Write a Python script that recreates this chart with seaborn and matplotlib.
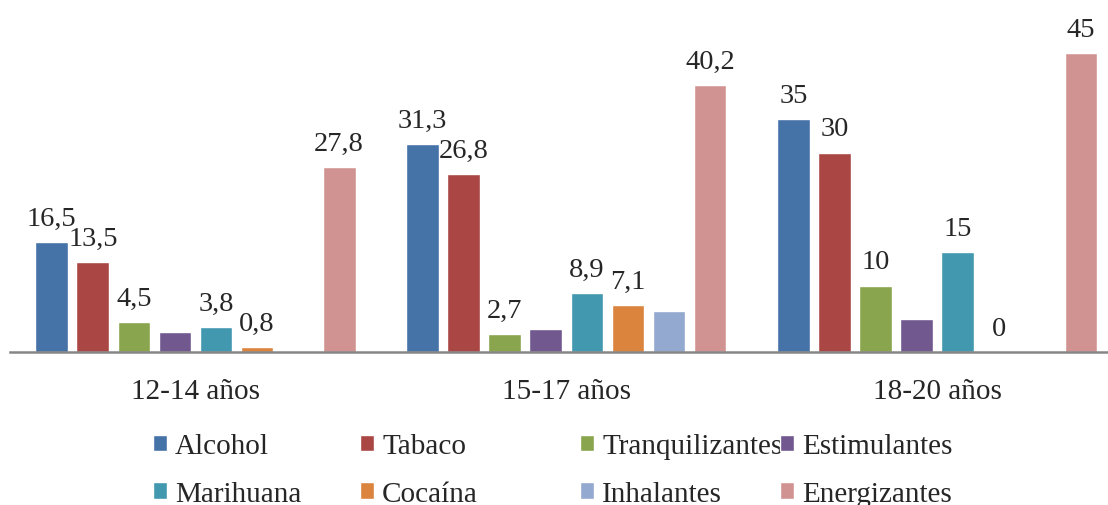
import pandas as pd
import seaborn as sns
import matplotlib.pyplot as plt

groups = ['12-14 años', '15-17 años', '18-20 años']
substances = ['Alcohol', 'Tabaco', 'Tranquilizantes', 'Estimulantes',
              'Marihuana', 'Cocaína', 'Inhalantes', 'Energizantes']

alcohol = [16.5, 31.3, 35]
tabaco = [13.5, 26.8, 30]
tranquilizantes = [4.5, 2.7, 10]
estimulantes = [3.0, 3.5, 4.9]
marihuana = [3.8, 8.9, 15]
cocaina = [0.8, 7.1, 0]
inhalantes = [0, 6.2, 0]
energizantes = [27.8, 40.2, 45]

# which series carry a data label in the original
labelled = [True, True, True, False, True, True, False, True]

colors = ['#4572A7', '#AA4643', '#89A54E', '#71588F',
          '#4198AF', '#DB843D', '#93A9CF', '#D19392']

series = [alcohol, tabaco, tranquilizantes, estimulantes,
          marihuana, cocaina, inhalantes, energizantes]

rows = []
for name, vals in zip(substances, series):
    for g, v in zip(groups, vals):
        rows.append({'grupo': g, 'sustancia': name, 'valor': v})
df = pd.DataFrame(rows)

sns.set_style('white')
plt.rcParams['font.family'] = ['Liberation Serif', 'DejaVu Serif']

fig = plt.figure(figsize=(11.08, 5.06), dpi=100)
ax = fig.add_axes([10 / 1108, 153 / 506, 1098 / 1108, 332.5 / 506])

sns.barplot(data=df, x='grupo', y='valor', hue='sustancia', order=groups,
            hue_order=substances, palette=colors, saturation=1,
            errorbar=None, width=0.885, gap=0.2, ax=ax)

for cont, vals, show in zip(ax.containers, series, labelled):
    if not show:
        continue
    labels = [f'{v:g}'.replace('.', ',') for v in vals]
    ax.bar_label(cont, labels=labels, padding=8, fontsize=20.5)

ax.set_ylim(0, 50)
ax.set_xlim(-0.5, 2.46)
ax.set_xlabel('')
ax.set_ylabel('')
ax.set_yticks([])
ax.tick_params(axis='x', length=0, pad=19, labelsize=21)
for s in ['top', 'right', 'left']:
    ax.spines[s].set_visible(False)
ax.spines['bottom'].set_color('#868686')
ax.spines['bottom'].set_linewidth(1.8)

handles, labels = ax.get_legend_handles_labels()
ax.get_legend().remove()

# four legend columns, placed like the original's evenly spaced ones
col_x = [153, 360, 580, 780]
for i, x in enumerate(col_x):
    fig.legend([handles[i], handles[i + 4]], [labels[i], labels[i + 4]],
               loc='upper left', bbox_to_anchor=(x / 1108, 1 - 434 / 506),
               frameon=False, fontsize=21, handlelength=0.48,
               handleheight=0.48, handletextpad=0.28, labelspacing=0.75,
               borderpad=0, borderaxespad=0)

fig.savefig('out.png', dpi=100)
